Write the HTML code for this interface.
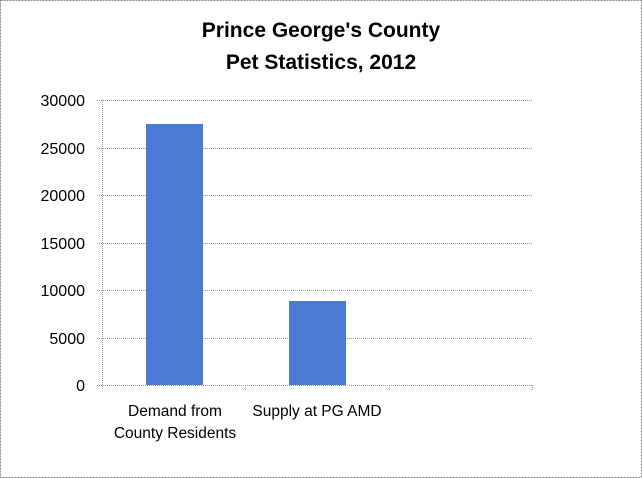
<!DOCTYPE html>
<html><head><style>
body{margin:0;background:#fff}
svg{display:block}
text{font-family:"Liberation Sans",sans-serif;fill:#000}
</style></head><body>
<svg width="642" height="478" viewBox="0 0 642 478">
<rect x="0.5" y="0.5" width="641" height="477" fill="#fff" stroke="#888" stroke-dasharray="2,1"/>
<text x="321" y="37" font-size="21" font-weight="bold" text-anchor="middle">Prince George's County</text>
<text x="321" y="69" font-size="21" font-weight="bold" text-anchor="middle">Pet Statistics, 2012</text>
<g stroke="#999" stroke-dasharray="1,1" stroke-width="1">
<line x1="97" y1="100.5" x2="532" y2="100.5"/>
<line x1="97" y1="148.5" x2="532" y2="148.5"/>
<line x1="97" y1="195.5" x2="532" y2="195.5"/>
<line x1="97" y1="243.5" x2="532" y2="243.5"/>
<line x1="97" y1="290.5" x2="532" y2="290.5"/>
<line x1="97" y1="338.5" x2="532" y2="338.5"/>
<line x1="97" y1="385.5" x2="532" y2="385.5"/>
<line x1="102.5" y1="100" x2="102.5" y2="390"/>
<line x1="245.5" y1="385" x2="245.5" y2="390"/>
<line x1="389.5" y1="385" x2="389.5" y2="390"/>
<line x1="532.5" y1="385" x2="532.5" y2="390"/>
</g>
<rect x="146" y="124" width="57" height="261" fill="#4a7ad4"/>
<rect x="289" y="301" width="57" height="84" fill="#4a7ad4"/>
<g font-size="16" text-anchor="end">
<text x="85" y="106">30000</text>
<text x="85" y="154">25000</text>
<text x="85" y="201">20000</text>
<text x="85" y="249">15000</text>
<text x="85" y="296">10000</text>
<text x="85" y="344">5000</text>
<text x="85" y="391">0</text>
</g>
<g font-size="15.5" text-anchor="middle">
<text x="175" y="416">Demand from</text>
<text x="175" y="438">County Residents</text>
<text x="317" y="416">Supply at PG AMD</text>
</g>
</svg>
</body></html>
